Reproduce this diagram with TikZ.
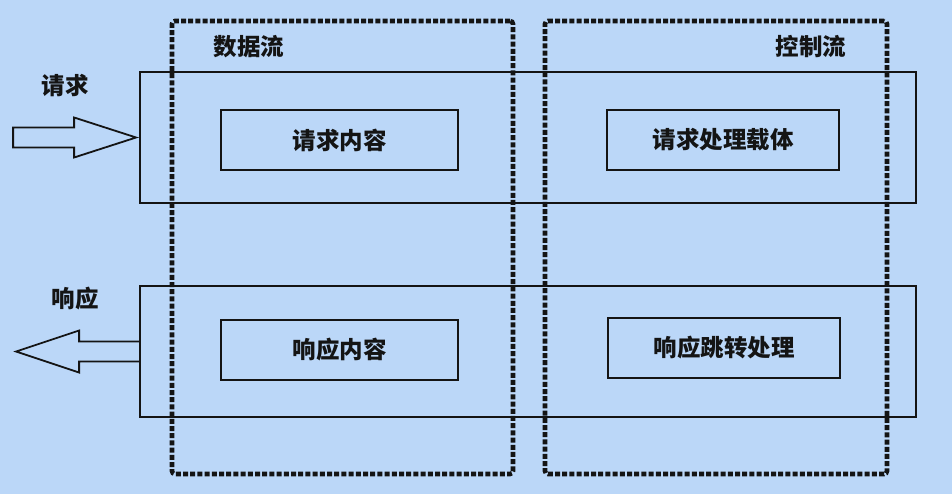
\documentclass[tikz,border=0pt]{standalone}
\usepackage{fontspec}
\newfontfamily\cjk{Noto Sans CJK SC}
\usetikzlibrary{calc}
\definecolor{bg}{RGB}{187,215,248}
\definecolor{ink}{RGB}{20,20,20}
\begin{document}
\begin{tikzpicture}[x=1pt,y=-1pt,
  rowbox/.style={draw=ink, line width=1.8pt, minimum width=776pt, minimum height=131pt, inner sep=0pt},
  itembox/.style={draw=ink, line width=1.8pt, minimum height=60pt, inner sep=0pt,
    font=\cjk\bfseries\fontsize{23.5}{23.5}\selectfont, text=ink},
  flowbox/.style={draw=ink, line width=4.6pt, dash pattern=on 5pt off 2.2pt,
    rounded corners=3pt, minimum height=453pt, inner sep=0pt},
  lbl/.style={font=\cjk\bfseries\fontsize{23.5}{23.5}\selectfont, text=ink, inner sep=0pt},
  hollow/.style={draw=ink, line width=1.8pt, line join=miter}]
  % page and background
  \fill[bg] (0,0) rectangle (952,494);
  \useasboundingbox (0,0) rectangle (952,494);

  % request and response rows
  \node[rowbox] (reqrow) at (528,137.5) {};
  \node[rowbox] (resrow) at (528,351.5) {};

  % content boxes inside the rows
  \node[itembox, minimum width=237pt] (reqdata) at (339.5,140) {请求内容};
  \node[itembox, minimum width=232pt] (reqctrl) at (723,140) {请求处理载体};
  \node[itembox, minimum width=237pt] (resdata) at (339.5,350) {响应内容};
  \node[itembox, minimum width=232pt] (resctrl) at (724,348) {响应跳转处理};

  % data flow and control flow columns
  \node[flowbox, minimum width=341pt] (datacol) at (342.5,247.5) {};
  \node[flowbox, minimum width=342pt] (ctrlcol) at (716,247.5) {};

  % column and row captions
  \node[lbl] (datalbl) at (249,47) {数据流};
  \node[lbl] (ctrllbl) at (811,47) {控制流};
  \node[lbl] (reqlbl) at (65,86) {请求};
  \node[lbl] (reslbl) at (75,299) {响应};

  % incoming request arrow (hollow, pointing into the request row)
  \draw[hollow] ($(reqrow.west)+(-3,0)$) coordinate (reqtip)
    -- ++(-62,-20) -- ++(0,10) -- ++(-61,0) -- ++(0,20) -- ++(61,0) -- ++(0,10) -- cycle;

  % outgoing response arrow (hollow, leaving the response row)
  \draw[hollow] ($(resrow.west)+(0,-10)$) coordinate (resbase)
    -- ++(-60,0) -- ++(0,-11) -- ++(-63,21) -- ++(63,21) -- ++(0,-11) -- ++(60,0);
\end{tikzpicture}
\end{document}
